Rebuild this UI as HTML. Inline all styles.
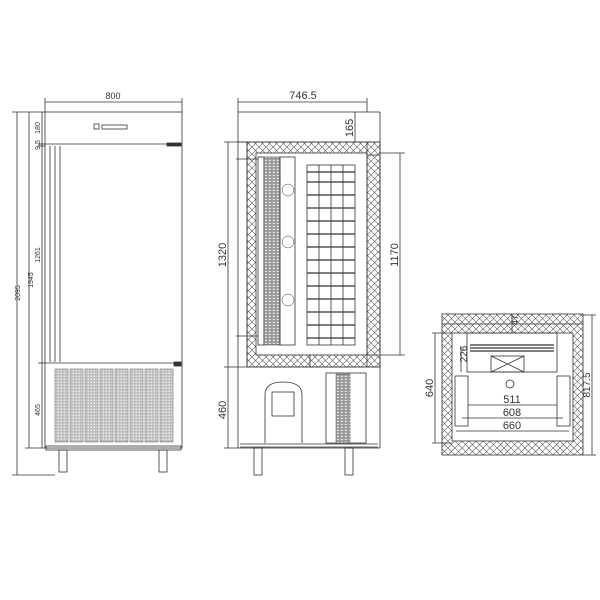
<!DOCTYPE html>
<html><head><meta charset="utf-8"><style>
html,body{margin:0;padding:0;background:#fff}
svg{display:block}
text{font-family:"Liberation Sans",sans-serif;fill:#333}
</style></head><body>
<svg width="600" height="600" viewBox="0 0 600 600" xmlns="http://www.w3.org/2000/svg">
<defs>
<pattern id="hx" width="7" height="7" patternUnits="userSpaceOnUse">
<path d="M0 0L7 7M7 0L0 7" stroke="#555" stroke-width="0.6"/>
</pattern>
<pattern id="gr" width="3" height="3" patternUnits="userSpaceOnUse">
<rect width="3" height="3" fill="#bbb"/><rect x="0.5" y="0.5" width="1.6" height="1.6" fill="#eee"/>
</pattern>
<pattern id="fin" width="4" height="3" patternUnits="userSpaceOnUse">
<rect width="4" height="3" fill="#999"/><rect x="0.8" y="0.8" width="2" height="1.2" fill="#eee"/>
</pattern>
</defs>
<g fill="none" stroke="#333" stroke-width="0.8">
<!-- FRONT VIEW -->
<rect x="45" y="112" width="137" height="336"/>
<line x1="45" y1="144" x2="182" y2="144"/>
<rect x="94" y="124" width="5" height="5"/>
<rect x="102" y="125" width="25" height="4"/>
<line x1="50" y1="146" x2="50" y2="362"/>
<line x1="55" y1="146" x2="55" y2="362"/>
<line x1="60" y1="146" x2="60" y2="362"/>
<line x1="45" y1="363" x2="182" y2="363"/>
<rect x="167" y="143" width="14" height="3" fill="#333"/>
<rect x="174" y="362" width="7" height="4" fill="#333"/>
<g fill="url(#gr)" stroke="#555" stroke-width="0.5">
<rect x="55" y="369" width="13" height="73"/><rect x="70" y="369" width="13" height="73"/>
<rect x="85" y="369" width="13" height="73"/><rect x="100" y="369" width="13" height="73"/>
<rect x="115" y="369" width="13" height="73"/><rect x="130" y="369" width="13" height="73"/>
<rect x="145" y="369" width="13" height="73"/><rect x="160" y="369" width="13" height="73"/>
</g>
<rect x="46" y="446" width="135" height="4"/>
<rect x="59" y="450" width="8" height="22"/><rect x="159" y="450" width="8" height="22"/>
<line x1="45" y1="102" x2="182" y2="102"/>
<line x1="45" y1="98" x2="45" y2="112"/><line x1="182" y1="98" x2="182" y2="112"/>
<line x1="17" y1="112" x2="17" y2="475"/>
<line x1="29" y1="112" x2="29" y2="448"/>
<line x1="42" y1="112" x2="42" y2="448"/>
<line x1="12" y1="112" x2="45" y2="112"/>
<line x1="12" y1="475" x2="55" y2="475"/>
<line x1="25" y1="448" x2="45" y2="448"/>
<line x1="38" y1="144" x2="45" y2="144"/>
<line x1="38" y1="146" x2="45" y2="146"/>
<line x1="38" y1="363" x2="45" y2="363"/>

<!-- SIDE VIEW -->
<rect x="238" y="112" width="142" height="336"/>
<line x1="238" y1="142" x2="380" y2="142"/>
<path d="M247 142H380V367H247Z" fill="url(#hx)"/>
<rect x="256" y="153" width="111" height="202" fill="#fff"/>
<line x1="367" y1="142" x2="367" y2="367"/>
<line x1="367" y1="155" x2="379" y2="155"/>
<line x1="367" y1="355" x2="379" y2="355"/>
<line x1="238" y1="367" x2="380" y2="367"/>
<line x1="247" y1="142" x2="247" y2="367"/>
<line x1="310" y1="355" x2="310" y2="367"/>
<rect x="258" y="157" width="6" height="188"/>
<rect x="264" y="157" width="16" height="188" fill="url(#fin)" stroke-width="0.5"/>
<rect x="280" y="157" width="15" height="188"/>
<g stroke-width="0.5"><circle cx="288" cy="190" r="6"/><circle cx="288" cy="242" r="6"/><circle cx="288" cy="300" r="6"/></g>
<line x1="236" y1="159" x2="258" y2="159"/><line x1="236" y1="336" x2="258" y2="336"/>
<rect x="307" y="165" width="48" height="180"/>
<line x1="319" y1="165" x2="319" y2="345"/><line x1="331" y1="165" x2="331" y2="345"/><line x1="343" y1="165" x2="343" y2="345"/>
<g stroke-width="1.2">
<line x1="307" y1="172" x2="355" y2="172"/><line x1="307" y1="182" x2="355" y2="182"/>
<line x1="307" y1="195" x2="355" y2="195"/><line x1="307" y1="208" x2="355" y2="208"/>
<line x1="307" y1="221" x2="355" y2="221"/><line x1="307" y1="234" x2="355" y2="234"/>
<line x1="307" y1="247" x2="355" y2="247"/><line x1="307" y1="260" x2="355" y2="260"/>
<line x1="307" y1="273" x2="355" y2="273"/><line x1="307" y1="286" x2="355" y2="286"/>
<line x1="307" y1="299" x2="355" y2="299"/><line x1="307" y1="312" x2="355" y2="312"/>
<line x1="307" y1="325" x2="355" y2="325"/><line x1="307" y1="338" x2="355" y2="338"/>
</g>
<path d="M265 443V395Q265 382 283 382Q302 382 302 395V443"/>
<rect x="272" y="392" width="22" height="24"/>
<rect x="326" y="373" width="40" height="70"/>
<rect x="336" y="374" width="14" height="69" fill="url(#fin)" stroke-width="0.4"/>
<line x1="240" y1="444" x2="378" y2="444"/><line x1="240" y1="447" x2="378" y2="447"/>
<rect x="254" y="448" width="8" height="27"/><rect x="345" y="448" width="8" height="27"/>
<line x1="238" y1="102" x2="367" y2="102"/>
<line x1="238" y1="98" x2="238" y2="112"/><line x1="367" y1="98" x2="367" y2="112"/>
<line x1="355" y1="112" x2="355" y2="142"/>
<line x1="228" y1="142" x2="228" y2="448"/>
<line x1="224" y1="142" x2="247" y2="142"/><line x1="224" y1="367" x2="238" y2="367"/><line x1="224" y1="448" x2="238" y2="448"/>
<line x1="400" y1="153" x2="400" y2="355"/>
<line x1="380" y1="153" x2="405" y2="153"/><line x1="380" y1="355" x2="405" y2="355"/>

<!-- TOP VIEW -->
<rect x="442" y="314" width="141" height="141" fill="url(#hx)"/>
<rect x="452" y="333" width="121" height="108" fill="#fff"/>
<line x1="442" y1="324" x2="583" y2="324"/>
<rect x="467" y="333" width="90" height="39"/>
<g stroke-width="1.2"><line x1="470" y1="345" x2="554" y2="345"/><line x1="470" y1="348" x2="554" y2="348"/><line x1="470" y1="351" x2="554" y2="351"/></g>
<rect x="491" y="356" width="33" height="16"/>
<path d="M491 356L524 372M524 356L491 372"/>
<circle cx="510" cy="384" r="4"/>
<rect x="455" y="376" width="13" height="50"/><rect x="557" y="376" width="13" height="50"/>
<line x1="468" y1="405" x2="557" y2="405"/>
<line x1="462" y1="418" x2="563" y2="418"/>
<line x1="456" y1="431" x2="569" y2="431"/>
<line x1="435" y1="333" x2="435" y2="443"/>
<line x1="432" y1="333" x2="452" y2="333"/><line x1="432" y1="443" x2="452" y2="443"/>
<line x1="592" y1="315" x2="592" y2="455"/>
<line x1="583" y1="315" x2="596" y2="315"/><line x1="583" y1="455" x2="596" y2="455"/>
<line x1="461" y1="346" x2="461" y2="372"/>
<line x1="512" y1="314" x2="512" y2="333"/>
</g>
<g font-size="9">
<text x="113" y="99" text-anchor="middle">800</text>
<text x="303" y="99" text-anchor="middle" font-size="11">746.5</text>
<text transform="translate(20,293) rotate(-90)" text-anchor="middle" font-size="7">2095</text>
<text transform="translate(33,280) rotate(-90)" text-anchor="middle" font-size="7">1945</text>
<text transform="translate(40,255) rotate(-90)" text-anchor="middle" font-size="7">1261</text>
<text transform="translate(40,128) rotate(-90)" text-anchor="middle" font-size="7">180</text>
<text transform="translate(40,145) rotate(-90)" text-anchor="middle" font-size="7">9.5</text>
<text transform="translate(40,410) rotate(-90)" text-anchor="middle" font-size="7">465</text>
<text transform="translate(226,255) rotate(-90)" text-anchor="middle" font-size="11">1320</text>
<text transform="translate(226,410) rotate(-90)" text-anchor="middle" font-size="11">460</text>
<text transform="translate(353,128) rotate(-90)" text-anchor="middle" font-size="11">165</text>
<text transform="translate(398,255) rotate(-90)" text-anchor="middle" font-size="11">1170</text>
<text transform="translate(433,388) rotate(-90)" text-anchor="middle" font-size="11">640</text>
<text transform="translate(590,385) rotate(-90)" text-anchor="middle" font-size="10">817.5</text>
<text transform="translate(467,354) rotate(-90)" text-anchor="middle" font-size="10">226</text>
<text transform="translate(518,320) rotate(-90)" text-anchor="middle" font-size="9">47</text>
<text x="512" y="403" text-anchor="middle" font-size="11">511</text>
<text x="512" y="416" text-anchor="middle" font-size="11">608</text>
<text x="512" y="429" text-anchor="middle" font-size="11">660</text>
</g>
</svg>
</body></html>
